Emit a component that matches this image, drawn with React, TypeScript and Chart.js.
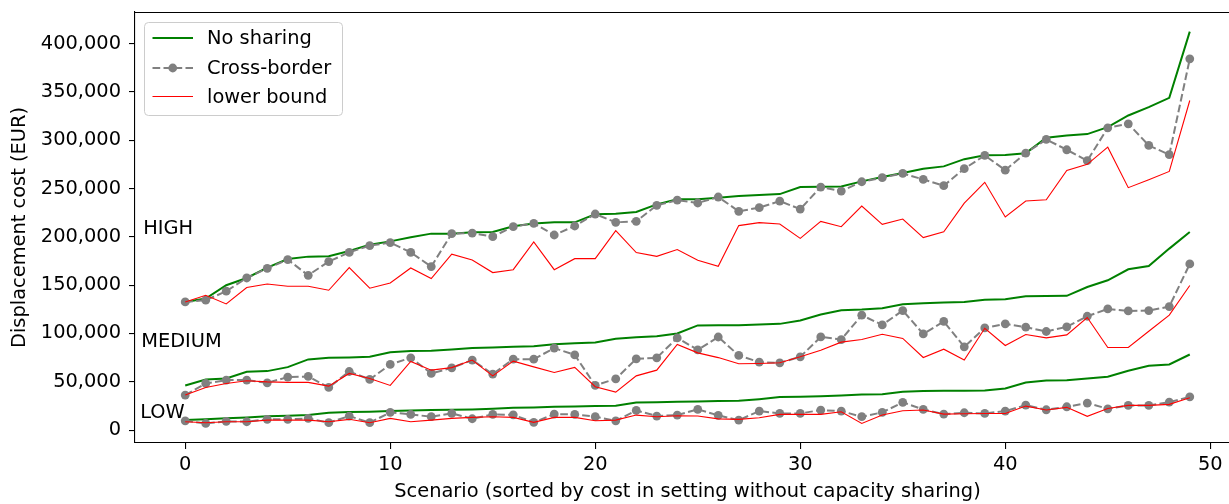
import React, { useEffect, useRef } from 'react';
import { Chart, registerables } from 'chart.js';

Chart.register(...registerables);

const FONT = '"DejaVu Sans", "Liberation Sans", sans-serif';
const FS = 19.4;

const scenarios = [
  0, 1, 2, 3, 4, 5, 6, 7, 8, 9, 10, 11, 12, 13, 14, 15, 16, 17, 18, 19, 20, 21, 22, 23, 24,
  25, 26, 27, 28, 29, 30, 31, 32, 33, 34, 35, 36, 37, 38, 39, 40, 41, 42, 43, 44, 45, 46, 47, 48, 49,
];
const xTicks = [0, 10, 20, 30, 40, 50];
const yTicks = [0, 50000, 100000, 150000, 200000, 250000, 300000, 350000, 400000];

const seriesNames = ['No sharing', 'Cross-border', 'lower bound'];
const levelNames = ['HIGH', 'MEDIUM', 'LOW'];
const levelLabelX = [-2.05, -2.15, -2.2];
const levelLabelY = [203000, 86000, 12000];

const highNoSharing = [
  132600, 136100, 149900, 157400, 168200, 177000, 179500, 179800, 185300, 191900,
  195300, 199500, 203300, 203300, 204700, 205000, 210900, 213900, 215000, 215000,
  223300, 224000, 225700, 233600, 238800, 238800, 240500, 242200, 243200, 244200,
  251500, 251900, 252200, 257400, 261900, 266000, 270500, 272900, 280400, 284400,
  284800, 286600, 302500, 304900, 306300, 313500, 325600, 334200, 343900, 412400,
];
const highCrossBorder = [
  132600, 134400, 143700, 157400, 167400, 176400, 160200, 174400, 183900, 190900,
  194000, 183900, 169200, 203300, 203900, 200200, 210500, 213900, 201900, 211200,
  223600, 215000, 216000, 232600, 238000, 235000, 241200, 226400, 230200, 237000,
  228700, 251500, 247400, 257000, 261200, 265600, 259400, 252900, 270500, 284200,
  269000, 286600, 300800, 290100, 278800, 312800, 317000, 294600, 285000, 384200,
];
const highLowerBound = [
  132600, 139500, 130500, 147500, 151200, 148800, 148800, 144700, 168200, 146800,
  152300, 167800, 156800, 182000, 176000, 163000, 166000, 194600, 166000, 177400,
  177400, 206400, 183700, 179800, 186800, 175700, 169500, 211600, 214700, 213300,
  198400, 216000, 210500, 231800, 212900, 218400, 199200, 205300, 234900, 256400,
  220500, 237000, 238300, 268600, 275000, 292800, 250900, 259100, 267700, 341100,
];

const mediumNoSharing = [
  46200, 52400, 53400, 60300, 61000, 65100, 73100, 74800, 75100, 75800,
  80600, 81700, 82000, 83500, 84800, 85500, 86100, 86800, 88900, 89900,
  90600, 94400, 96100, 97200, 99900, 108300, 108400, 108500, 109200, 109900,
  113400, 119600, 124000, 124700, 126100, 130200, 131300, 132000, 132600, 134800,
  135400, 138500, 138800, 138900, 148100, 155000, 166400, 169800, 187800, 205000,
];
const mediumCrossBorder = [
  36200, 48200, 51700, 51700, 48900, 54800, 55500, 44100, 60600, 52400,
  67900, 74800, 58600, 64400, 72400, 57900, 73400, 73400, 84800, 77800,
  46200, 53000, 73700, 74800, 95400, 83000, 96300, 77200, 70300, 69600,
  75800, 96400, 93700, 118900, 108800, 123700, 99500, 112400, 86100, 105700,
  109900, 106500, 102000, 106800, 117800, 125400, 123300, 123700, 127800, 171900,
];
const mediumLowerBound = [
  36200, 44100, 48200, 51000, 49900, 49300, 49300, 45500, 58600, 53400,
  46200, 71000, 62000, 64600, 72400, 56100, 71300, 65400, 59600, 64800,
  44800, 39300, 56100, 62000, 88600, 79900, 75000, 68600, 68900, 69600,
  75800, 82700, 91000, 93700, 99200, 94800, 75100, 83700, 72400, 105400,
  87500, 98900, 95400, 98500, 116500, 85500, 85500, 102300, 118900, 149600,
];

const lowNoSharing = [
  10300, 11100, 12100, 13100, 14200, 14800, 15500, 17900, 18600, 18900,
  19600, 20300, 20700, 21000, 21400, 22000, 23000, 23400, 24100, 24500,
  24800, 25100, 28600, 28900, 29300, 29600, 30100, 30300, 32000, 34100,
  34500, 35100, 35800, 36900, 37000, 39600, 40300, 40600, 40700, 41000,
  43100, 49300, 51400, 51500, 53400, 55100, 61300, 66500, 67900, 78200,
];
const lowCrossBorder = [
  9600, 6900, 9000, 8600, 11100, 11100, 12100, 7600, 14500, 7600,
  18300, 16200, 13800, 17200, 11700, 16200, 15800, 8000, 16500, 16200,
  13800, 9600, 20300, 14500, 15500, 21400, 15200, 10300, 19600, 17200,
  17200, 20700, 19600, 13800, 18300, 28600, 21400, 16500, 17900, 17200,
  19600, 25800, 21000, 24100, 27900, 22000, 25500, 25500, 28900, 34400,
];
const lowLowerBound = [
  8600, 7600, 8600, 8600, 10300, 10300, 10300, 8600, 11100, 7600,
  12100, 8600, 10300, 12100, 13100, 13800, 13100, 8000, 13100, 13100,
  9600, 10300, 15500, 13800, 14800, 14500, 11600, 11100, 12800, 16200,
  16200, 16200, 18900, 6900, 15500, 20000, 20700, 16500, 16900, 17200,
  17200, 24800, 20700, 23500, 14200, 22400, 25500, 25500, 26600, 33400,
];

const GREEN = '#008000';
const GRAY = '#808080';
const RED = '#ff0000';

const toPoints = (vals: number[]) => vals.map((v, i) => ({ x: scenarios[i], y: v }));

const styleFor = (kind: number) => {
  if (kind === 0) {
    return { borderColor: GREEN, backgroundColor: GREEN, borderWidth: 2, pointRadius: 0, order: 3 };
  }
  if (kind === 1) {
    return {
      borderColor: GRAY,
      backgroundColor: GRAY,
      borderWidth: 2,
      borderDash: [7.7, 3.3],
      pointRadius: 4.4,
      pointBackgroundColor: GRAY,
      pointBorderWidth: 0,
      pointBorderColor: GRAY,
      order: 2,
    };
  }
  return { borderColor: RED, backgroundColor: RED, borderWidth: 1.1, pointRadius: 0, order: 1 };
};

const groups = [
  [highNoSharing, highCrossBorder, highLowerBound],
  [mediumNoSharing, mediumCrossBorder, mediumLowerBound],
  [lowNoSharing, lowCrossBorder, lowLowerBound],
];

const framePlugin = {
  id: 'frameAndText',
  afterDraw(chart: any) {
    const { ctx, chartArea, scales } = chart;
    ctx.save();
    // top spine (right spine lies beyond the visible image)
    ctx.strokeStyle = '#000';
    ctx.lineWidth = 1.1;
    ctx.beginPath();
    ctx.moveTo(chartArea.left, Math.round(chartArea.top) + 0.5);
    ctx.lineTo(chartArea.right, Math.round(chartArea.top) + 0.5);
    ctx.moveTo(Math.round(chartArea.right) - 0.5, chartArea.top);
    ctx.lineTo(Math.round(chartArea.right) - 0.5, chartArea.bottom);
    ctx.stroke();

    // level annotations
    ctx.fillStyle = '#000';
    ctx.font = `${FS}px ${FONT}`;
    ctx.textAlign = 'left';
    ctx.textBaseline = 'alphabetic';
    levelNames.forEach((name, i) => {
      ctx.fillText(name, scales.x.getPixelForValue(levelLabelX[i]), scales.y.getPixelForValue(levelLabelY[i]));
    });

    // legend box (matplotlib style)
    const bx = 144.5, by = 22.5, bw = 198, bh = 93, r = 4;
    ctx.beginPath();
    ctx.moveTo(bx + r, by);
    ctx.lineTo(bx + bw - r, by);
    ctx.arcTo(bx + bw, by, bx + bw, by + r, r);
    ctx.lineTo(bx + bw, by + bh - r);
    ctx.arcTo(bx + bw, by + bh, bx + bw - r, by + bh, r);
    ctx.lineTo(bx + r, by + bh);
    ctx.arcTo(bx, by + bh, bx, by + bh - r, r);
    ctx.lineTo(bx, by + r);
    ctx.arcTo(bx, by, bx + r, by, r);
    ctx.closePath();
    ctx.fillStyle = 'rgba(255,255,255,0.8)';
    ctx.fill();
    ctx.strokeStyle = '#cccccc';
    ctx.lineWidth = 1;
    ctx.stroke();

    const rowsY = [38, 68, 96.5];
    seriesNames.forEach((name, k) => {
      const st: any = styleFor(k);
      const y = rowsY[k];
      ctx.beginPath();
      ctx.strokeStyle = st.borderColor;
      ctx.lineWidth = st.borderWidth;
      ctx.setLineDash(st.borderDash || []);
      ctx.moveTo(152.5, y);
      ctx.lineTo(193, y);
      ctx.stroke();
      ctx.setLineDash([]);
      if (st.pointRadius) {
        ctx.beginPath();
        ctx.fillStyle = GRAY;
        ctx.arc(172.75, y, st.pointRadius, 0, Math.PI * 2);
        ctx.fill();
      }
      ctx.fillStyle = '#000';
      ctx.textBaseline = 'middle';
      ctx.fillText(name, 207, y + 1);
    });
    ctx.restore();
  },
};

export default function App() {
  const canvasRef = useRef<HTMLCanvasElement | null>(null);

  useEffect(() => {
    const canvas = canvasRef.current;
    if (!canvas) return;
    const datasets: any[] = [];
    groups.forEach((group, g) => {
      group.forEach((vals, k) => {
        datasets.push({
          label: `${levelNames[g]} ${seriesNames[k]}`,
          data: toPoints(vals),
          fill: false,
          tension: 0,
          ...styleFor(k),
        });
      });
    });

    const chart = new Chart(canvas, {
      type: 'line',
      data: { datasets },
      options: {
        responsive: false,
        animation: false,
        devicePixelRatio: 1,
        layout: { padding: { left: 0, top: 12, right: 10, bottom: 0 } },
        plugins: {
          legend: { display: false },
          tooltip: { enabled: false },
        },
        scales: {
          x: {
            type: 'linear',
            min: -2.45,
            max: 51.45,
            afterBuildTicks: (scale: any) => {
              scale.ticks = xTicks.map((v) => ({ value: v }));
            },
            afterFit: (scale: any) => {
              scale.height = 61;
              scale.paddingLeft = 0;
              scale.paddingRight = 0;
            },
            grid: {
              display: true,
              drawOnChartArea: false,
              drawTicks: true,
              tickLength: 6,
              color: '#000',
              lineWidth: 1.1,
            },
            border: { display: true, color: '#000', width: 1.1 },
            ticks: {
              color: '#000',
              font: { family: FONT, size: FS },
              padding: 4,
              maxRotation: 0,
              autoSkip: false,
              callback: (v: any) => String(v),
            },
            title: {
              display: true,
              text: 'Scenario (sorted by cost in setting without capacity sharing)',
              color: '#000',
              font: { family: FONT, size: FS },
              padding: { top: 0, bottom: 0 },
            },
          },
          y: {
            type: 'linear',
            min: -13400,
            max: 432700,
            afterBuildTicks: (scale: any) => {
              scale.ticks = yTicks.map((v) => ({ value: v }));
            },
            afterFit: (scale: any) => {
              scale.width = 135;
              scale.paddingTop = 0;
              scale.paddingBottom = 0;
            },
            grid: {
              display: true,
              drawOnChartArea: false,
              drawTicks: true,
              tickLength: 6,
              color: '#000',
              lineWidth: 1.1,
            },
            border: { display: true, color: '#000', width: 1.1 },
            ticks: {
              color: '#000',
              font: { family: FONT, size: FS },
              padding: 8,
              autoSkip: false,
              callback: (v: any) => Number(v).toLocaleString('en-US'),
            },
            title: {
              display: true,
              text: 'Displacement cost (EUR)',
              color: '#000',
              font: { family: FONT, size: FS },
              padding: { top: 8, bottom: 0 },
            },
          },
        },
      },
      plugins: [framePlugin],
    } as any);

    return () => chart.destroy();
  }, []);

  return (
    <div
      style={{
        position: 'fixed',
        left: 0,
        top: 0,
        width: 1229,
        height: 504,
        overflow: 'hidden',
        background: '#fff',
      }}
    >
      <canvas ref={canvasRef} width={1250} height={504} style={{ display: 'block' }} />
    </div>
  );
}
